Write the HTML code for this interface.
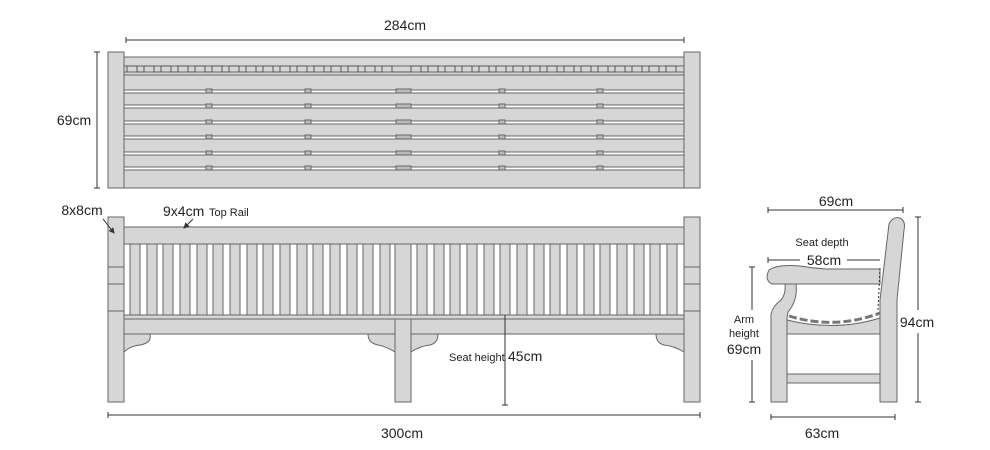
<!DOCTYPE html>
<html><head><meta charset="utf-8"><style>
html,body{margin:0;padding:0;background:#fff;}
svg{display:block;font-family:"Liberation Sans",sans-serif;}
</style></head><body>
<svg width="990" height="450" viewBox="0 0 990 450" xmlns="http://www.w3.org/2000/svg">
<defs>
<marker id="a" markerWidth="6" markerHeight="6" refX="5" refY="3" orient="auto"><path d="M0,0 L6,3 L0,6z" fill="#333"/></marker>
</defs>
<g fill="#d6d6d6" stroke="#666" stroke-width="1">
<!-- TOP VIEW -->
<rect x="124" y="57" width="560" height="131"/>
<rect x="124" y="57" width="560" height="18"/>
<g fill="#fff">
<rect x="124" y="90" width="560" height="3"/><rect x="124" y="105" width="560" height="3"/>
<rect x="124" y="121" width="560" height="3"/><rect x="124" y="136" width="560" height="3"/>
<rect x="124" y="152" width="560" height="3"/><rect x="124" y="167" width="560" height="3"/>
</g>
<path d="M124,66 H690" fill="none"/>
<path d="M124,72 H690" fill="none"/>
<g fill="#bbb">
<rect x="206" y="89" width="6" height="4"/><rect x="305" y="89" width="6" height="4"/><rect x="396" y="89" width="15" height="4"/><rect x="499" y="89" width="6" height="4"/><rect x="597" y="89" width="6" height="4"/>
<rect x="206" y="104" width="6" height="4"/><rect x="305" y="104" width="6" height="4"/><rect x="396" y="104" width="15" height="4"/><rect x="499" y="104" width="6" height="4"/><rect x="597" y="104" width="6" height="4"/>
<rect x="206" y="120" width="6" height="4"/><rect x="305" y="120" width="6" height="4"/><rect x="396" y="120" width="15" height="4"/><rect x="499" y="120" width="6" height="4"/><rect x="597" y="120" width="6" height="4"/>
<rect x="206" y="135" width="6" height="4"/><rect x="305" y="135" width="6" height="4"/><rect x="396" y="135" width="15" height="4"/><rect x="499" y="135" width="6" height="4"/><rect x="597" y="135" width="6" height="4"/>
<rect x="206" y="151" width="6" height="4"/><rect x="305" y="151" width="6" height="4"/><rect x="396" y="151" width="15" height="4"/><rect x="499" y="151" width="6" height="4"/><rect x="597" y="151" width="6" height="4"/>
<rect x="206" y="166" width="6" height="4"/><rect x="305" y="166" width="6" height="4"/><rect x="396" y="166" width="15" height="4"/><rect x="499" y="166" width="6" height="4"/><rect x="597" y="166" width="6" height="4"/>
</g>
<path d="M127,72 V66 H137 V72 H144 V66 H154 V72 H161 V66 H171 V72 H178 V66 H188 V72 H195 V66 H205 V72 H212 V66 H222 V72 H229 V66 H239 V72 H246 V66 H256 V72 H263 V66 H273 V72 H280 V66 H290 V72 H297 V66 H307 V72 H314 V66 H324 V72 H331 V66 H341 V72 H348 V66 H358 V72 H365 V66 H375 V72 H382 V66 H392 V72 H397 H411 V66 H421 V72 H428 V66 H438 V72 H445 V66 H455 V72 H462 V66 H472 V72 H479 V66 H489 V72 H496 V66 H506 V72 H513 V66 H523 V72 H530 V66 H540 V72 H547 V66 H557 V72 H564 V66 H574 V72 H581 V66 H591 V72 H598 V66 H608 V72 H615 V66 H625 V72 H632 V66 H642 V72 H649 V66 H659 V72 H666 V66 H676 V72" fill="none" stroke="#555"/>
<rect x="108" y="52" width="16" height="136"/>
<rect x="684" y="52" width="16" height="136"/>

<!-- FRONT VIEW -->
<g id="slats">
<rect x="130" y="244" width="10" height="71"/><rect x="147" y="244" width="10" height="71"/><rect x="163" y="244" width="10" height="71"/><rect x="180" y="244" width="10" height="71"/><rect x="197" y="244" width="10" height="71"/><rect x="213" y="244" width="10" height="71"/><rect x="230" y="244" width="10" height="71"/><rect x="247" y="244" width="10" height="71"/><rect x="263" y="244" width="10" height="71"/><rect x="280" y="244" width="10" height="71"/><rect x="297" y="244" width="10" height="71"/><rect x="313" y="244" width="10" height="71"/><rect x="330" y="244" width="10" height="71"/><rect x="347" y="244" width="10" height="71"/><rect x="363" y="244" width="10" height="71"/><rect x="380" y="244" width="10" height="71"/><rect x="395" y="244" width="16" height="71"/><rect x="417" y="244" width="10" height="71"/><rect x="434" y="244" width="10" height="71"/><rect x="450" y="244" width="10" height="71"/><rect x="467" y="244" width="10" height="71"/><rect x="484" y="244" width="10" height="71"/><rect x="500" y="244" width="10" height="71"/><rect x="517" y="244" width="10" height="71"/><rect x="534" y="244" width="10" height="71"/><rect x="550" y="244" width="10" height="71"/><rect x="567" y="244" width="10" height="71"/><rect x="584" y="244" width="10" height="71"/><rect x="600" y="244" width="10" height="71"/><rect x="617" y="244" width="10" height="71"/><rect x="634" y="244" width="10" height="71"/><rect x="650" y="244" width="10" height="71"/><rect x="667" y="244" width="10" height="71"/>
</g>
<rect x="124" y="227" width="560" height="17"/>
<rect x="124" y="315" width="560" height="4"/>
<rect x="124" y="319" width="560" height="15"/>
<path d="M124,334 H150 Q152,343 140,345 Q130,346 124,352 Z"/>
<path d="M368,334 H395 V352 Q385,346 378,345 Q368,343 368,334 Z"/>
<path d="M411,334 H438 Q438,343 430,345 Q420,346 411,352 Z"/>
<path d="M684,334 H656 Q656,343 664,345 Q674,346 684,352 Z"/>
<rect x="395" y="319" width="16" height="83"/>
<rect x="108" y="217" width="16" height="185"/>
<rect x="684" y="217" width="16" height="185"/>
<path d="M108,267 H124 M108,284 H124 M108,311 H124 M684,267 H700 M684,284 H700 M684,311 H700" fill="none"/>

<!-- SIDE VIEW -->
<path d="M880,402 V300 L889,224 Q893,216 900,218 Q906,221 904,230 L897,300 V402 Z"/>
<path d="M771,402 V314 Q773,306 781,300 Q786,294 785,284 H796 Q798,300 788,312 L787,318 V402 Z"/>
<path d="M787,320 Q835,332 880,318 V334 H787 Z"/>
<path d="M789,316 Q835,330 880,313" fill="none" stroke-dasharray="8,3" stroke-width="3" stroke="#777"/>
<rect x="787" y="374" width="93" height="9"/>
<path d="M772,284 Q764,280 769,270 Q778,264 800,266 Q812,268 825,269 H880 V284 Z"/>
<path d="M880,268 L878,310" fill="none" stroke="#333" stroke-dasharray="2,2"/>
</g>

<!-- DIMENSIONS -->
<g stroke="#333" stroke-width="1" fill="none">
<path d="M126,40 H684 M126,37 V43 M684,37 V43"/>
<path d="M97,52 V188 M94,52 H100 M94,188 H100"/>
<path d="M108,415 H700 M108,412 V418 M700,412 V418"/>
<path d="M505,315 V405 M502,405 H508"/>
<path d="M768,210 H903 M768,207 V213 M903,207 V213"/>
<path d="M918,217 V310 M918,333 V402 M915,217 H921 M915,402 H921"/>
<path d="M752,267 V310 M752,360 V402 M749,267 H755 M749,402 H755"/>
<path d="M768,260 H800 M847,260 H880 M768,257 V263"/>
<path d="M771,417 H895 M771,414 V420 M895,414 V420"/>
<path d="M103,219 L114,233" marker-end="url(#a)"/>
<path d="M193,219 L184,228" marker-end="url(#a)"/>
</g>
<g fill="#222" font-size="14">
<text x="405" y="30" text-anchor="middle">284cm</text>
<text x="74" y="125" text-anchor="middle">69cm</text>
<text x="82" y="215" text-anchor="middle">8x8cm</text>
<text x="163" y="216">9x4cm</text>
<text x="209" y="216" font-size="11">Top Rail</text>
<text x="449" y="361" font-size="11">Seat height</text>
<text x="508" y="361" font-size="14">45cm</text>
<text x="402" y="438" text-anchor="middle">300cm</text>
<text x="836" y="206" text-anchor="middle">69cm</text>
<text x="822" y="246" text-anchor="middle" font-size="11">Seat depth</text>
<text x="824" y="265" text-anchor="middle">58cm</text>
<text x="917" y="327" text-anchor="middle">94cm</text>
<text x="744" y="323" text-anchor="middle" font-size="11">Arm</text>
<text x="744" y="337" text-anchor="middle" font-size="11">height</text>
<text x="744" y="354" text-anchor="middle">69cm</text>
<text x="822" y="438" text-anchor="middle">63cm</text>
</g>
</svg>
</body></html>
